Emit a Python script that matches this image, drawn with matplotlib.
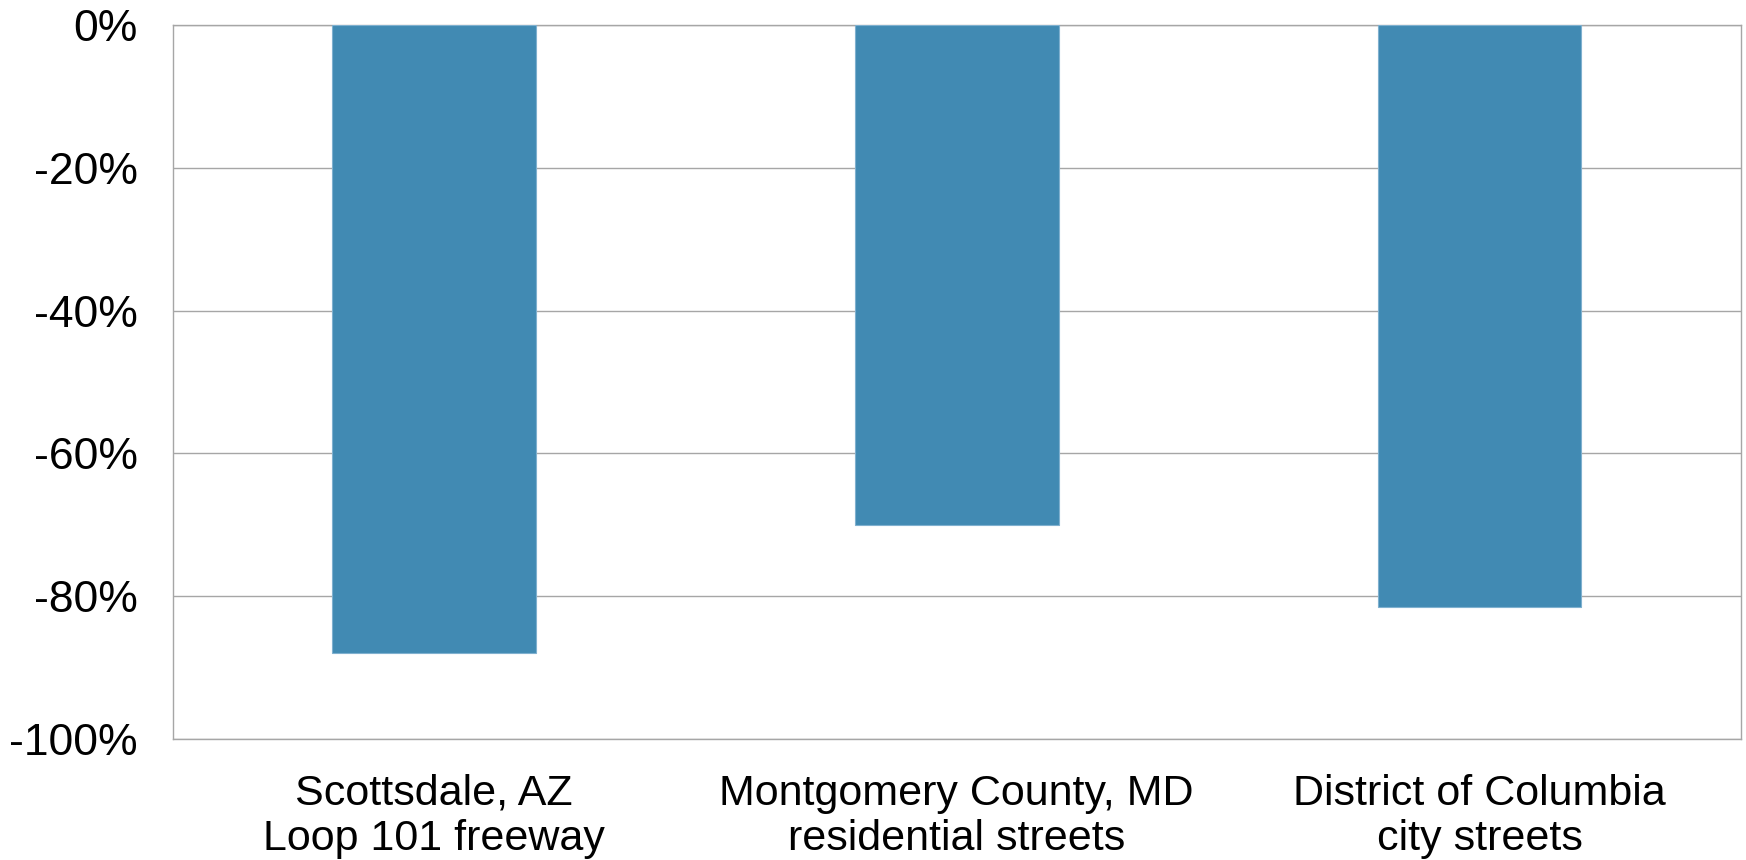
import matplotlib
matplotlib.use("Agg")
import matplotlib.pyplot as plt
from matplotlib.ticker import FuncFormatter

categories = ["Scottsdale, AZ\nLoop 101 freeway",
              "Montgomery County, MD\nresidential streets",
              "District of Columbia\ncity streets"]
values = [-88, -70, -81.5]
yticks = [0, -20, -40, -60, -80, -100]

plt.rcParams['font.family'] = ['Liberation Sans', 'DejaVu Sans']

fig = plt.figure(figsize=(17.46, 8.6), dpi=100)
ax = fig.add_axes([0.0988, 0.1407, 0.8983, 0.8302])

x = list(range(len(categories)))
ax.bar(x, values, width=0.39, color="#418AB3", edgecolor="#7FB0CF", linewidth=0.8, zorder=3)

ax.set_xlim(-0.5, len(categories) - 0.5)
ax.set_ylim(-100, 0)
ax.set_yticks(yticks)
ax.yaxis.set_major_formatter(FuncFormatter(lambda v, p: f"{int(v)}%"))
ax.set_xticks(x)
ax.set_xticklabels(categories, fontsize=31, linespacing=1.16)
ax.tick_params(axis='y', labelsize=32, length=0, pad=25)
ax.tick_params(axis='x', length=0, pad=25)
ax.grid(axis='y', color="#A6A6A6", linewidth=1.0, zorder=0)
for s in ax.spines.values():
    s.set_color("#A6A6A6")
    s.set_linewidth(1.0)

fig.savefig("out.png", dpi=100)
